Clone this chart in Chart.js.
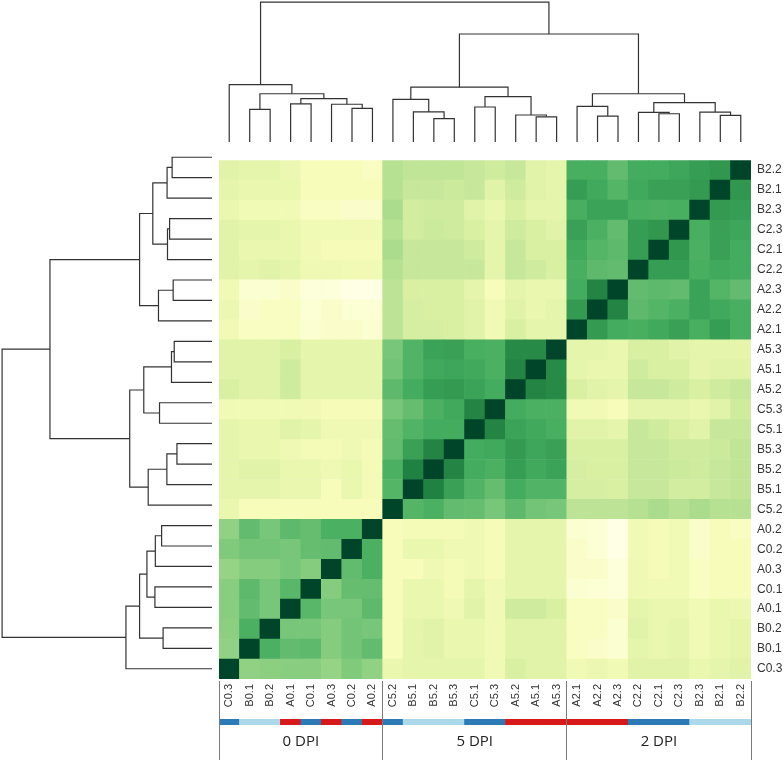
<!DOCTYPE html>
<html>
<head>
<meta charset="utf-8">
<title>Sample correlation heatmap</title>
<script src="https://cdn.jsdelivr.net/npm/chart.js@4.4.1/dist/chart.umd.min.js"></script>
<style>
  body { margin: 0; background: #fff; }
  #wrap { position: relative; width: 784px; height: 760px; overflow: hidden; }
  canvas { position: absolute; }
</style>
</head>
<body>
<div id="wrap">
  <canvas id="topTree" width="532" height="142" style="left:219px;top:0px"></canvas>
  <canvas id="leftTree" width="212" height="532" style="left:0px;top:147px"></canvas>
  <canvas id="heat" width="565" height="560" style="left:219px;top:147px"></canvas>
  <canvas id="sideBar" width="532" height="6" style="left:219px;top:719px"></canvas>
  <canvas id="groupAxis" width="542" height="79" style="left:214px;top:681px"></canvas>
</div>
<script>
// leaf order of the clustering (left to right = bottom to top)
var columns = ["C0.3", "B0.1", "B0.2", "A0.1", "C0.1", "A0.3", "C0.2", "A0.2",
  "C5.2", "B5.1", "B5.2", "B5.3", "C5.1", "C5.3", "A5.2", "A5.1", "A5.3",
  "A2.1", "A2.2", "A2.3", "C2.2", "C2.1", "C2.3", "B2.3", "B2.1", "B2.2"];

var groups = ["0 DPI", "5 DPI", "2 DPI"];
var groupSizes = [8, 9, 9];

var treatColor = { A: "#d7191c", B: "#abd9e9", C: "#2c7bb6" };

// similarity, rows and columns in leaf order
var similarity = [
 [1.00,0.44,0.45,0.46,0.46,0.43,0.48,0.44, 0.18,0.20,0.20,0.20,0.20,0.15,0.25,0.22,0.22, 0.15,0.17,0.15,0.22,0.22,0.22,0.18,0.20,0.22],
 [0.44,1.00,0.60,0.55,0.56,0.47,0.51,0.55, 0.12,0.20,0.22,0.18,0.18,0.15,0.22,0.22,0.22, 0.10,0.08,0.06,0.20,0.18,0.20,0.15,0.18,0.20],
 [0.45,0.60,1.00,0.50,0.50,0.47,0.51,0.50, 0.12,0.20,0.22,0.18,0.18,0.15,0.22,0.22,0.22, 0.10,0.10,0.06,0.22,0.18,0.20,0.15,0.18,0.20],
 [0.46,0.55,0.50,1.00,0.57,0.50,0.50,0.56, 0.12,0.18,0.18,0.16,0.22,0.15,0.28,0.28,0.25, 0.10,0.10,0.08,0.20,0.18,0.18,0.15,0.18,0.17],
 [0.46,0.56,0.50,0.57,1.00,0.47,0.54,0.54, 0.12,0.18,0.18,0.14,0.20,0.15,0.20,0.20,0.20, 0.06,0.05,0.03,0.16,0.15,0.15,0.10,0.12,0.12],
 [0.43,0.47,0.47,0.50,0.47,1.00,0.55,0.60, 0.12,0.12,0.16,0.14,0.16,0.13,0.20,0.20,0.20, 0.08,0.08,0.03,0.16,0.13,0.15,0.10,0.12,0.12],
 [0.48,0.51,0.51,0.50,0.54,0.55,1.00,0.60, 0.12,0.18,0.18,0.16,0.16,0.13,0.20,0.20,0.20, 0.08,0.05,0.00,0.15,0.13,0.15,0.08,0.12,0.12],
 [0.44,0.55,0.50,0.56,0.54,0.60,0.60,1.00, 0.12,0.14,0.14,0.14,0.16,0.13,0.20,0.20,0.20, 0.06,0.05,0.00,0.15,0.13,0.15,0.08,0.12,0.10],
 [0.18,0.12,0.12,0.12,0.12,0.12,0.12,0.12, 1.00,0.58,0.60,0.55,0.54,0.50,0.56,0.51,0.50, 0.33,0.33,0.33,0.35,0.38,0.35,0.38,0.35,0.35],
 [0.20,0.20,0.20,0.18,0.18,0.12,0.18,0.14, 0.58,1.00,0.76,0.66,0.59,0.54,0.62,0.59,0.59, 0.26,0.26,0.25,0.30,0.30,0.27,0.27,0.30,0.32],
 [0.20,0.22,0.22,0.18,0.18,0.16,0.18,0.14, 0.60,0.76,1.00,0.75,0.62,0.60,0.67,0.63,0.65, 0.26,0.25,0.25,0.30,0.30,0.29,0.28,0.30,0.32],
 [0.20,0.18,0.18,0.16,0.14,0.14,0.16,0.14, 0.55,0.66,0.75,1.00,0.62,0.63,0.68,0.64,0.66, 0.25,0.25,0.25,0.30,0.30,0.28,0.28,0.29,0.32],
 [0.20,0.18,0.18,0.22,0.20,0.16,0.16,0.16, 0.54,0.59,0.62,0.62,1.00,0.75,0.65,0.63,0.61, 0.22,0.22,0.20,0.30,0.28,0.25,0.22,0.30,0.30],
 [0.15,0.15,0.15,0.15,0.15,0.13,0.13,0.13, 0.50,0.54,0.60,0.63,0.75,1.00,0.62,0.60,0.60, 0.15,0.15,0.12,0.20,0.20,0.20,0.18,0.22,0.28],
 [0.25,0.22,0.22,0.28,0.20,0.20,0.20,0.20, 0.56,0.62,0.67,0.68,0.65,0.62,1.00,0.75,0.73, 0.25,0.22,0.20,0.30,0.30,0.28,0.25,0.28,0.30],
 [0.22,0.22,0.22,0.28,0.20,0.20,0.20,0.20, 0.51,0.59,0.63,0.64,0.63,0.60,0.75,1.00,0.73, 0.20,0.18,0.18,0.28,0.25,0.25,0.20,0.22,0.22],
 [0.22,0.22,0.22,0.25,0.20,0.20,0.20,0.20, 0.50,0.59,0.65,0.66,0.61,0.60,0.73,0.73,1.00, 0.20,0.20,0.18,0.25,0.25,0.22,0.20,0.20,0.20],
 [0.15,0.10,0.10,0.10,0.06,0.08,0.08,0.06, 0.33,0.26,0.26,0.25,0.22,0.15,0.25,0.20,0.20, 1.00,0.68,0.62,0.61,0.63,0.66,0.61,0.67,0.61],
 [0.17,0.08,0.10,0.10,0.05,0.08,0.05,0.05, 0.33,0.26,0.25,0.25,0.22,0.15,0.22,0.18,0.20, 0.68,1.00,0.75,0.56,0.58,0.60,0.65,0.63,0.61],
 [0.15,0.06,0.06,0.08,0.03,0.03,0.00,0.00, 0.33,0.25,0.25,0.25,0.20,0.12,0.20,0.18,0.18, 0.62,0.75,1.00,0.55,0.56,0.55,0.65,0.58,0.55],
 [0.22,0.20,0.22,0.20,0.16,0.16,0.15,0.15, 0.35,0.30,0.30,0.30,0.30,0.20,0.30,0.28,0.25, 0.61,0.56,0.55,1.00,0.67,0.67,0.61,0.63,0.62],
 [0.22,0.18,0.18,0.18,0.15,0.13,0.13,0.13, 0.38,0.30,0.30,0.30,0.28,0.20,0.30,0.25,0.25, 0.63,0.58,0.56,0.67,1.00,0.69,0.60,0.66,0.62],
 [0.22,0.20,0.20,0.18,0.15,0.15,0.15,0.15, 0.35,0.27,0.29,0.28,0.25,0.20,0.28,0.25,0.22, 0.66,0.60,0.55,0.67,0.69,1.00,0.61,0.66,0.64],
 [0.18,0.15,0.15,0.15,0.10,0.10,0.08,0.08, 0.38,0.27,0.28,0.28,0.22,0.18,0.25,0.20,0.20, 0.61,0.65,0.65,0.61,0.60,0.61,1.00,0.68,0.67],
 [0.20,0.18,0.18,0.18,0.12,0.12,0.12,0.12, 0.35,0.30,0.30,0.29,0.30,0.22,0.28,0.22,0.20, 0.67,0.63,0.58,0.63,0.66,0.66,0.68,1.00,0.69],
 [0.22,0.20,0.20,0.17,0.12,0.12,0.12,0.10, 0.35,0.32,0.32,0.32,0.30,0.28,0.30,0.22,0.20, 0.61,0.61,0.55,0.62,0.62,0.64,0.67,0.69,1.00]
];

// hierarchical clustering: [child, child, height]; numbers point to earlier merges
var merges = [
  ["C0.2", "A0.2", 0.240], // 0
  ["A0.3", 0, 0.270],      // 1
  ["A0.1", "C0.1", 0.272], // 2
  [2, 1, 0.310],           // 3
  ["B0.1", "B0.2", 0.233], // 4
  [4, 3, 0.345],           // 5
  ["C0.3", 5, 0.410],      // 6
  ["B5.2", "B5.3", 0.167], // 7
  ["B5.1", 7, 0.215],      // 8
  ["C5.2", 8, 0.304],      // 9
  ["C5.1", "C5.3", 0.250], // 10
  ["A5.1", "A5.3", 0.180], // 11
  ["A5.2", 11, 0.193],     // 12
  [10, 12, 0.325],         // 13
  [9, 13, 0.392],          // 14
  ["A2.2", "A2.3", 0.185], // 15
  ["A2.1", 15, 0.255],     // 16
  ["C2.1", "C2.3", 0.202], // 17
  ["C2.2", 17, 0.212],     // 18
  ["B2.1", "B2.2", 0.190], // 19
  ["B2.3", 19, 0.214],     // 20
  [18, 20, 0.282],         // 21
  [16, 21, 0.345],         // 22
  [14, 22, 0.772],         // 23
  [6, 23, 1.000]           // 24
];

/*---- colours ----*/
var ylgn = ["#ffffe5", "#f7fcb9", "#d9f0a3", "#addd8e", "#78c679", "#41ab5d", "#238443", "#006837", "#004529"];

function hexRgb(h) {
  return [parseInt(h.substr(1, 2), 16), parseInt(h.substr(3, 2), 16), parseInt(h.substr(5, 2), 16)];
}

function heatColor(v) {
  var t = Math.max(0, Math.min(1, v)) * (ylgn.length - 1);
  var i = Math.min(Math.floor(t), ylgn.length - 2);
  var f = t - i;
  var a = hexRgb(ylgn[i]), b = hexRgb(ylgn[i + 1]);
  return "rgb(" + Math.round(a[0] + (b[0] - a[0]) * f) + "," +
    Math.round(a[1] + (b[1] - a[1]) * f) + "," +
    Math.round(a[2] + (b[2] - a[2]) * f) + ")";
}

var rowLabels = columns.slice().reverse();
var n = columns.length;

/*---- dendrogram segments ----*/
var nodes = [];
function nodeOf(ref) {
  if (typeof ref === "string") return { p: columns.indexOf(ref), h: 0 };
  return nodes[ref];
}
var brackets = merges.map(function (m) {
  var a = nodeOf(m[0]), b = nodeOf(m[1]);
  nodes.push({ p: (a.p + b.p) / 2, h: m[2] });
  return [a, b, m[2]];
});
var rootHeight = merges[merges.length - 1][2];

var treeLine = { showLine: true, borderColor: "#333", borderWidth: 1.2, pointRadius: 0, pointHoverRadius: 0, clip: false };

function treeSets(horizontal) {
  return brackets.map(function (br) {
    var a = br[0], b = br[1], h = br[2];
    var pts = horizontal ?
      [{ x: a.p, y: a.h }, { x: a.p, y: h }, { x: b.p, y: h }, { x: b.p, y: b.h }] :
      [{ x: a.h, y: a.p }, { x: h, y: a.p }, { x: h, y: b.p }, { x: b.h, y: b.p }];
    return Object.assign({ data: pts }, treeLine);
  });
}

var quiet = { legend: { display: false }, tooltip: { enabled: false } };

/*---- top dendrogram ----*/
new Chart(document.getElementById("topTree"), {
  type: "scatter",
  data: { datasets: treeSets(true) },
  options: {
    animation: false, responsive: false, plugins: quiet,
    layout: { padding: 0 },
    scales: {
      x: { display: false, min: -0.5, max: n - 0.5 },
      y: { display: false, min: 0, max: rootHeight * 1.015 }
    }
  }
});

/*---- left dendrogram ----*/
new Chart(document.getElementById("leftTree"), {
  type: "scatter",
  data: { datasets: treeSets(false) },
  options: {
    animation: false, responsive: false, plugins: quiet,
    layout: { padding: 0 },
    scales: {
      x: { display: false, reverse: true, min: 0, max: rootHeight * 1.01 },
      y: { display: false, min: -0.5, max: n - 0.5 }
    }
  }
});

/*---- heatmap (stacked bars, one dataset per row) ----*/
var heatSets = columns.map(function (name, k) {
  return {
    label: name,
    data: columns.map(function () { return 1; }),
    backgroundColor: similarity[k].map(heatColor),
    borderWidth: 0,
    barPercentage: 1,
    categoryPercentage: 1
  };
});

new Chart(document.getElementById("heat"), {
  type: "bar",
  data: { labels: columns, datasets: heatSets },
  options: {
    animation: false, responsive: false, plugins: quiet,
    layout: { padding: 0 },
    scales: {
      x: {
        stacked: true, offset: true,
        grid: { display: false, drawTicks: false },
        border: { display: false },
        ticks: { autoSkip: false, minRotation: 90, maxRotation: 90, padding: 5, color: "#333",
          font: { family: "Liberation Sans", size: 11 } },
        afterFit: function (s) { s.height = 28; }
      },
      y: { display: false, stacked: true, min: 0, max: n },
      rows: {
        type: "category", labels: rowLabels, position: "right", offset: true,
        grid: { display: false, drawTicks: false },
        border: { display: false },
        ticks: { autoSkip: false, padding: 6, color: "#333",
          font: { family: "Liberation Sans", size: 12 } },
        afterFit: function (s) { s.width = 33; }
      }
    }
  }
});

/*---- treatment colour bar ----*/
new Chart(document.getElementById("sideBar"), {
  type: "bar",
  data: {
    labels: columns,
    datasets: [{
      data: columns.map(function () { return 1; }),
      backgroundColor: columns.map(function (c) { return treatColor[c.charAt(0)]; }),
      borderWidth: 0, barPercentage: 1, categoryPercentage: 1
    }]
  },
  options: {
    animation: false, responsive: false, plugins: quiet,
    layout: { padding: 0 },
    scales: { x: { display: false }, y: { display: false, min: 0, max: 1 } }
  }
});

/*---- DPI groups ----*/
var groupTicks = [{ value: -0.5, label: "" }];
var start = -0.5;
groups.forEach(function (g, i) {
  groupTicks.push({ value: start + groupSizes[i] / 2, label: g });
  start += groupSizes[i];
  groupTicks.push({ value: start, label: "" });
});

new Chart(document.getElementById("groupAxis"), {
  type: "scatter",
  data: { datasets: [] },
  options: {
    animation: false, responsive: false, plugins: quiet,
    layout: { padding: { left: 5, right: 5, top: 0, bottom: 0 } },
    scales: {
      x: {
        type: "linear", min: -0.5, max: n - 0.5,
        afterBuildTicks: function (s) { s.ticks = groupTicks.map(function (t) { return { value: t.value }; }); },
        grid: {
          drawOnChartArea: true, drawTicks: true, tickLength: 30, lineWidth: 1,
          color: function (ctx) {
            var t = groupTicks.find(function (g) { return g.value === ctx.tick.value; });
            return t && t.label === "" ? "#7a7a7a" : "rgba(0,0,0,0)";
          }
        },
        border: { display: false },
        ticks: {
          autoSkip: false, maxRotation: 0, padding: -27, color: "#222",
          font: { family: "Open Sans", size: 15 },
          callback: function (v) {
            var t = groupTicks.find(function (g) { return g.value === v; });
            return t ? t.label : "";
          }
        },
        afterFit: function (s) { s.height = 30; }
      },
      y: { display: false, min: 0, max: 1 }
    }
  }
});
</script>
</body>
</html>
